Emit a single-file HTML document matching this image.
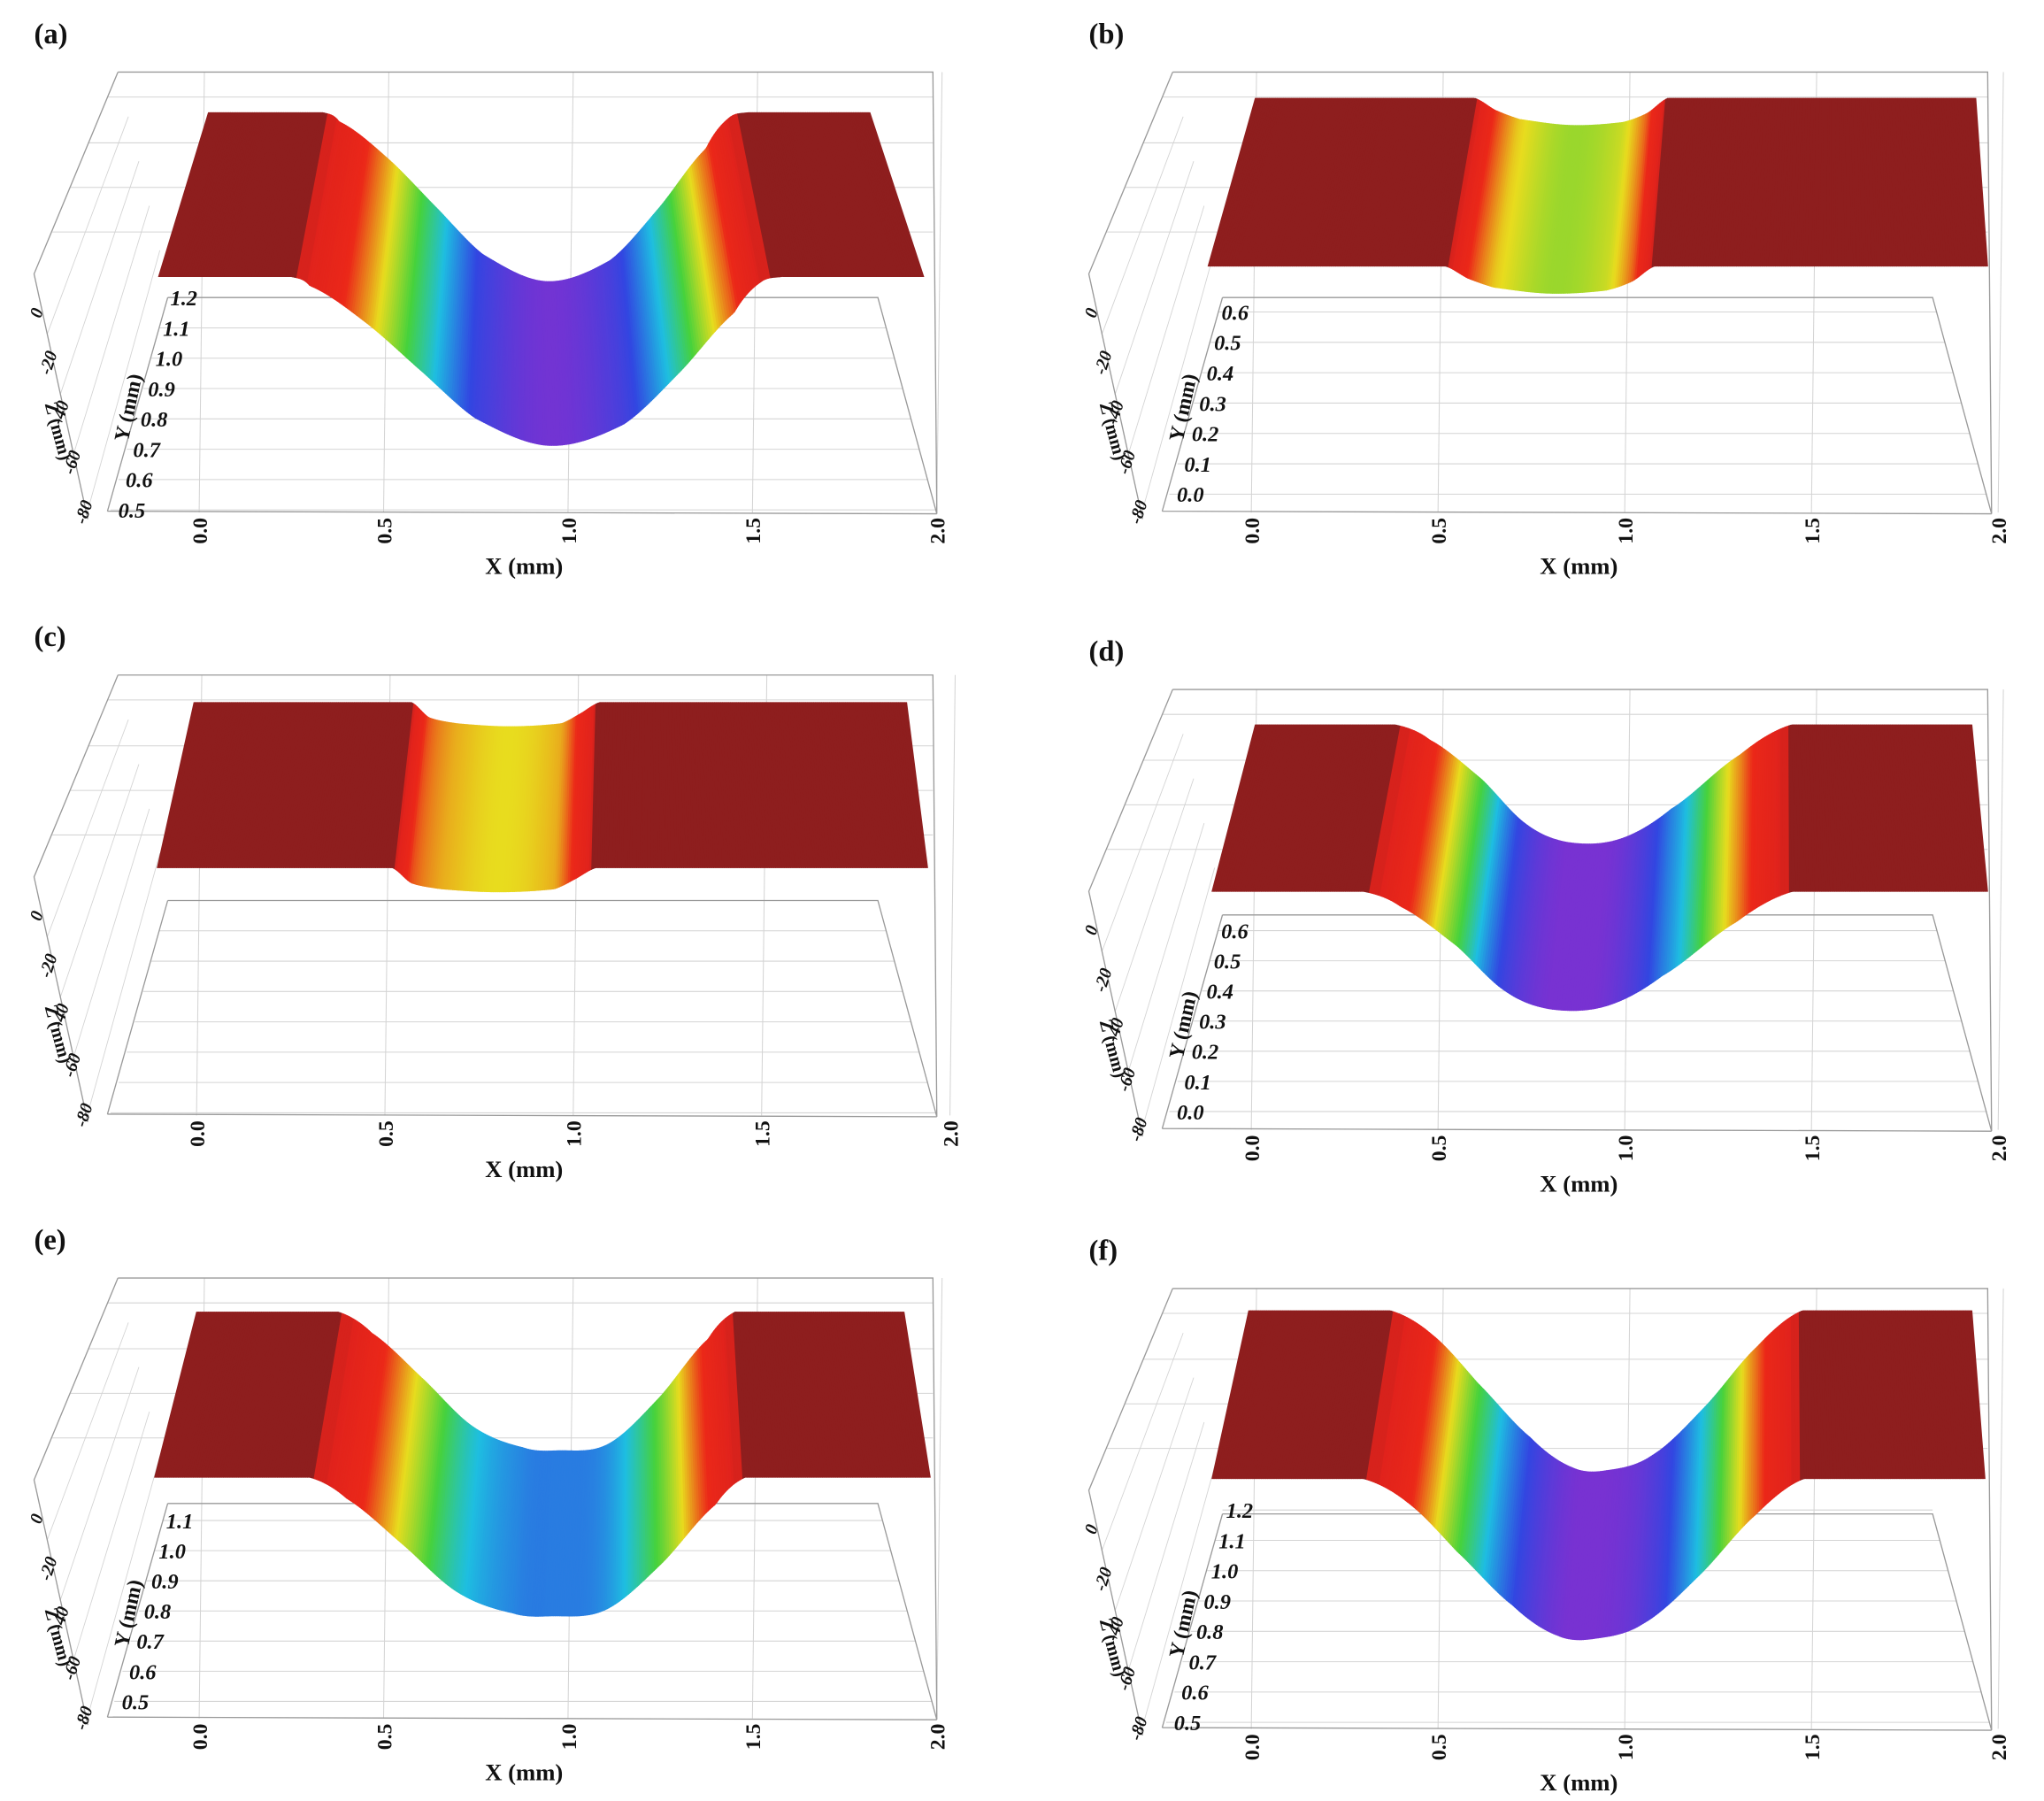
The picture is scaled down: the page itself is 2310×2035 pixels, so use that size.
<!DOCTYPE html>
<html><head><meta charset="utf-8"><style>
html,body{margin:0;padding:0;background:#fff}
svg{display:block}
text{font-family:"Liberation Serif",serif;font-weight:bold;fill:#111}
</style></head><body>
<svg id="fig" xmlns="http://www.w3.org/2000/svg" width="2310" height="2035" viewBox="0 0 1560 1374" preserveAspectRatio="none"></svg>
<script>
// ---- data: surface cross-section profiles (X in mm, surface height Y in mm)
const aX=[-0.11,0.25,0.30,0.45,0.60,0.75,0.95,1.15,1.30,1.45,1.52,1.58,1.96];
const aY=[1.27,1.27,1.24,1.12,0.96,0.80,0.71,0.78,0.95,1.15,1.25,1.27,1.27];
const bX=[-0.12,0.52,0.58,0.65,0.80,0.95,1.02,1.08,1.97];
const bY=[0.75,0.75,0.71,0.68,0.66,0.67,0.70,0.75,0.75];
const cX=[-0.11,0.52,0.57,0.65,0.80,0.95,1.00,1.06,1.95];
const cY=[0.75,0.75,0.70,0.68,0.67,0.68,0.71,0.75,0.75];
const dX=[-0.12,0.30,0.40,0.55,0.68,0.80,0.95,1.10,1.30,1.45,1.97];
const dY=[0.73,0.73,0.68,0.55,0.40,0.34,0.35,0.45,0.63,0.73,0.73];
const eX=[-0.12,0.30,0.40,0.55,0.70,0.85,0.95,1.10,1.25,1.40,1.48,1.96];
const eY=[1.24,1.24,1.17,1.02,0.86,0.79,0.78,0.80,0.95,1.15,1.24,1.24];
const fX=[-0.12,0.30,0.42,0.55,0.70,0.82,0.92,1.05,1.20,1.35,1.48,1.97];
const fY=[1.30,1.30,1.22,1.06,0.88,0.78,0.77,0.82,0.98,1.18,1.30,1.30];
const xTickLabels=["0.0","0.5","1.0","1.5","2.0"];
const zTickLabels=["0","-20","-40","-60","-80"];
const yTicksA=["1.2","1.1","1.0","0.9","0.8","0.7","0.6","0.5"];
const yTicksB=["0.6","0.5","0.4","0.3","0.2","0.1","0.0"];
const yTicksE=["1.1","1.0","0.9","0.8","0.7","0.6","0.5"];
const colorMins=[0.70,0.52,0.50,0.34,0.60,0.77];

const NS="http://www.w3.org/2000/svg";
const svg=document.getElementById('fig');
function mk(tag,attrs,parent){const e=document.createElementNS(NS,tag);for(const k in attrs)e.setAttribute(k,attrs[k]);(parent||svg).appendChild(e);return e;}

const panels=[
 {id:'a',ox:0,oy:0,X:aX,Y:aY,yt:yTicksA,ytTop:227,ytBot:389,backY:86,frontY:211,backL:159,backR:664,frontL:121,frontR:705,x0:152,x2:715},
 {id:'b',ox:805,oy:0,X:bX,Y:bY,yt:yTicksB,ytTop:238,ytBot:377,backY:75,frontY:203,backL:153,backR:703,frontL:117,frontR:712,x0:150,x2:720},
 {id:'c',ox:0,oy:460,X:cX,Y:cY,yt:[],ytTop:227,ytBot:389,backY:76,frontY:202,backL:148,backR:692,frontL:120,frontR:708,x0:150,x2:725},
 {id:'d',ox:805,oy:471,X:dX,Y:dY,yt:yTicksB,ytTop:239,ytBot:377,backY:82,frontY:209,backL:153,backR:700,frontL:120,frontR:712,x0:150,x2:720},
 {id:'e',ox:0,oy:920,X:eX,Y:eY,yt:yTicksE,ytTop:240,ytBot:378,backY:81,frontY:207,backL:150,backR:690,frontL:118,frontR:710,x0:152,x2:715},
 {id:'f',ox:805,oy:928,X:fX,Y:fY,yt:yTicksA,ytTop:224,ytBot:386,backY:72,frontY:200,backL:148,backR:700,frontL:120,frontR:710,x0:150,x2:720}
];
const stops=[[0,[142,30,30]],[0.04,[225,35,28]],[0.17,[235,40,25]],[0.32,[232,220,30]],[0.47,[70,210,60]],[0.62,[30,190,225]],[0.8,[50,70,225]],[1,[120,50,210]]];
function jet(f){f=Math.max(0,Math.min(1,f));for(let i=1;i<stops.length;i++){if(f<=stops[i][0]){const a=stops[i-1],b=stops[i];const t=(f-a[0])/(b[0]-a[0]);const c=a[1].map((v,k)=>Math.round(v+(b[1][k]-v)*t));return `rgb(${c})`;}}return 'rgb(120,50,210)';}
function interp(xs,ys,x){
 if(x<=xs[0])return ys[0];
 const n=xs.length;
 for(let i=1;i<n;i++){
  if(x<=xs[i]){
   const t=(x-xs[i-1])/(xs[i]-xs[i-1]);
   const p0=ys[Math.max(0,i-2)],p1=ys[i-1],p2=ys[i],p3=ys[Math.min(n-1,i+1)];
   let v=0.5*((2*p1)+(-p0+p2)*t+(2*p0-5*p1+4*p2-p3)*t*t+(-p0+3*p1-3*p2+p3)*t*t*t);
   return Math.min(v,ys[0]);
  }
 }
 return ys[n-1];
}

panels.forEach((p,pi)=>{
 const g=mk('g',{transform:`translate(${p.ox},${p.oy})`});
 
 
 const grid='#d4d4d4', box='#9a9a9a';
 [74,109,143,177].forEach(y=>{const l=mk('line',{x1:90-(y-55)*0.41,y1:y,x2:712,y2:y,stroke:grid,'stroke-width':0.7},g);});
 const nT=p.yt.length?p.yt.length:8;
 for(let i=0;i<nT;i++){const y=p.ytTop+(p.ytBot-p.ytTop)*i/(nT-1);const fr=(y-227)/(390-227);const xl=128-44*Math.max(0,fr);const xr=670+45*Math.max(0,fr);const l=mk('line',{x1:xl,y1:y,x2:xr,y2:y,stroke:grid,'stroke-width':0.7},g);}
 const pxmm=(p.x2-p.x0)/2;
 xTickLabels.forEach((t,i)=>{const x=p.x0+i*0.5*pxmm;const l=mk('line',{x1:x+4,y1:55,x2:x,y2:391,stroke:grid,'stroke-width':0.7},g);});
 for(let k=1;k<5;k++){const l=mk('line',{x1:26+k*10,y1:209+k*46,x2:90+k*8,y2:55+k*34,stroke:grid,'stroke-width':0.6},g);}
 const boxPath='M90,55 L712,55 L715,392 M90,55 L26,209 L67,396 M82,390 L715,392 M128,227 L670,227 L715,392 M128,227 L82,390';
 const bx=mk('path',{d:boxPath,fill:'none',stroke:box,'stroke-width':0.9},g);
 
 
 const N=360;
 const xL=(p.frontL-p.x0)/pxmm, xR=(p.frontR-p.x0)/pxmm;
 const Yp=p.Y[0], cmin=colorMins[pi], scale=230;
 const sg=mk('g',{},g);
 
 
 for(let i=0;i<N;i++){
  const m0=xL+(xR-xL)*i/N, m1=xL+(xR-xL)*(i+1)/N;
  const y0=interp(p.X,p.Y,m0), y1=interp(p.X,p.Y,m1);
  const d0=(Yp-y0)*scale, d1=(Yp-y1)*scale;
  const t0=i/N,t1=(i+1)/N;
  const bx0=p.backL+t0*(p.backR-p.backL), bx1=p.backL+t1*(p.backR-p.backL);
  const fx0=p.frontL+t0*(p.frontR-p.frontL), fx1=p.frontL+t1*(p.frontR-p.frontL);
  const ym=(y0+y1)/2;
  let f=(Yp-ym)/(Yp-cmin); if(Yp-ym<0.004)f=0; else f=Math.max(f,0.035);
  const c=jet(f);
  const s=mk('polygon',{points:`${bx0},${p.backY+d0} ${bx1},${p.backY+d1} ${fx1},${p.frontY+d1} ${fx0},${p.frontY+d0}`,fill:c,stroke:c,'stroke-width':0.6},sg);
  
  
 }
 xTickLabels.forEach((t,i)=>{const x=p.x0+i*0.5*pxmm;const tx=mk('text',{x:0,y:0,transform:`translate(${x+6},${405}) rotate(-90)`,'font-size':16,'text-anchor':'middle'},g);tx.textContent=t;});
 const xl=mk('text',{x:400,y:438,'font-size':18,'text-anchor':'middle'},g);xl.textContent='X (mm)';
 
 
 p.yt.forEach((t,i)=>{const y=p.ytTop+(p.ytBot-p.ytTop)*i/(p.yt.length-1);const fr=(y-227)/(390-227);const x=128-40*fr;const tx=mk('text',{x:x+2,y:y+6,'font-size':16.5,'font-style':'italic'},g);tx.textContent=t;});
 if(p.yt.length){const yl=mk('text',{x:0,y:0,transform:'translate(103,312) rotate(-78)','font-size':16,'text-anchor':'middle'},g);yl.textContent='Y (mm)';}
 zTickLabels.forEach((t,i)=>{const x=32+i*9, y=240+i*38;const tx=mk('text',{x:0,y:0,transform:`translate(${x},${y}) rotate(-72)`,'font-size':13.5,'font-style':'italic','text-anchor':'middle'},g);tx.textContent=t;});
 const zl=mk('text',{x:0,y:0,transform:'translate(40,330) rotate(75)','font-size':14,'text-anchor':'middle'},g);zl.textContent='Z (mm)';
 
 
 const pl=mk('text',{x:26,y:33,'font-size':22},g);pl.textContent='('+p.id+')';
 
 
});
</script>
</body></html>
